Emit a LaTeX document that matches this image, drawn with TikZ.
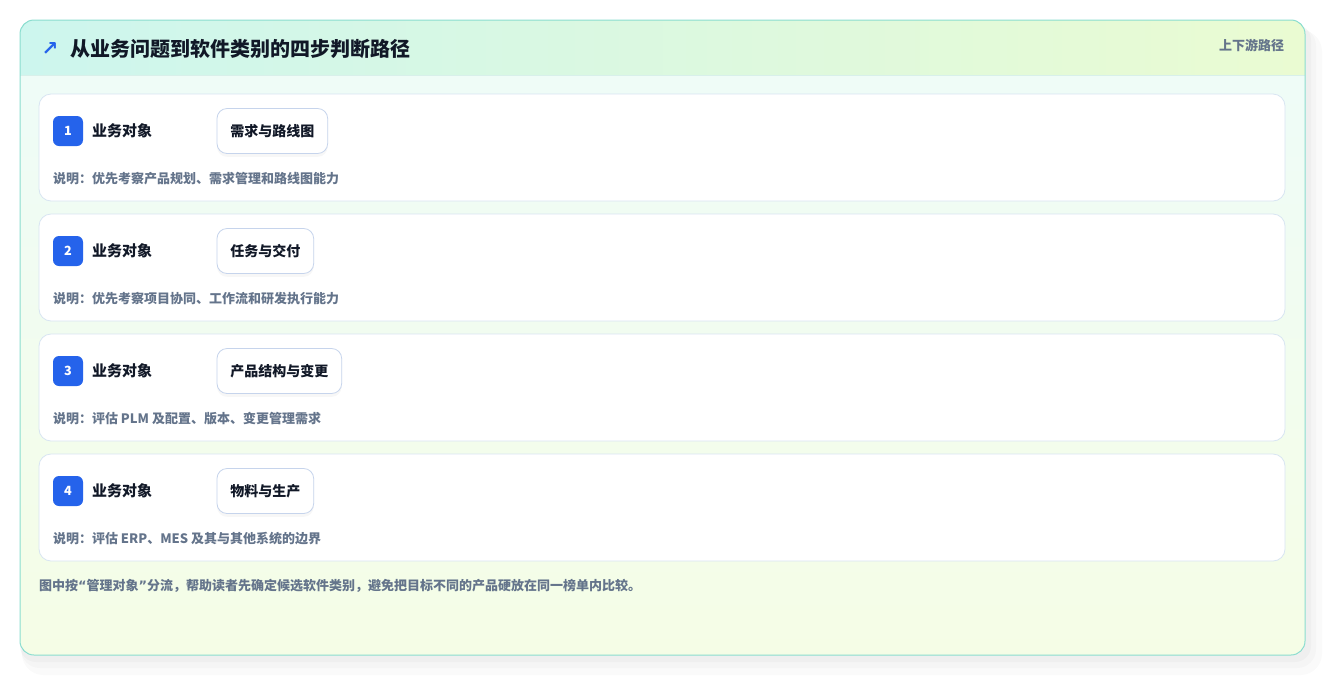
\documentclass[tikz,border=0pt]{standalone}
\usepackage{fontspec}
\setmainfont{Noto Sans CJK SC}
\newfontfamily\symfont{DejaVu Sans}
\usetikzlibrary{positioning, shadows}

\definecolor{cardline}{HTML}{8ADDCF}
\definecolor{headleft}{HTML}{CDF6EE}
\definecolor{headright}{HTML}{EAFBD2}
\definecolor{headline}{HTML}{D8F0EA}
\definecolor{bodytop}{HTML}{EEFCF9}
\definecolor{bodybottom}{HTML}{F5FDE6}
\definecolor{rowline}{HTML}{D8E5F2}
\definecolor{badgeblue}{HTML}{2563EB}
\definecolor{pillline}{HTML}{C6D4EC}
\definecolor{inktext}{HTML}{111827}
\definecolor{mutedtext}{HTML}{64748B}

\tikzset{
  every node/.style={inner sep=0pt, outer sep=0pt},
  rowcard/.style={draw=rowline, fill=white, line width=0.6pt, rounded corners=9pt, minimum width=934.5pt, minimum height=80.25pt},
  badge/.style={fill=badgeblue, rounded corners=4.5pt, minimum size=22.5pt, text=white, font=\bfseries\fontsize{9.5pt}{11pt}\selectfont},
  objlabel/.style={text=inktext, font=\bfseries\fontsize{11.25pt}{12pt}\selectfont},
  pill/.style={draw=pillline, fill=white, line width=0.6pt, rounded corners=7.5pt, minimum height=33.75pt, inner xsep=10pt, text=inktext, font=\bfseries\fontsize{10.5pt}{12pt}\selectfont, drop shadow={opacity=0.06, shadow xshift=0pt, shadow yshift=-2.5pt}},
  note/.style={text=mutedtext, font=\bfseries\fontsize{9.75pt}{11pt}\selectfont}
}
\newcommand{\qmark}[1]{{\symfont\bfseries #1}}

\begin{document}
\begin{tikzpicture}[x=0.75pt, y=-0.75pt, node distance=9.75pt]
  \useasboundingbox (0,0) rectangle (1325,676);

  % Shadow of the card
  \fill[black, opacity=0.018, rounded corners=16pt] (22,30) rectangle (1322,675);
  \fill[black, opacity=0.02, rounded corners=14pt] (21,27) rectangle (1316,668);
  \fill[black, opacity=0.025, rounded corners=12pt] (20,24) rectangle (1311,662);

  % Card with header band
  \begin{scope}
    \clip[rounded corners=10.5pt] (20,20) rectangle (1305,655);
    \shade[top color=bodytop, bottom color=bodybottom] (20,20) rectangle (1305,655);
    \shade[left color=headleft, right color=headright] (20,20) rectangle (1305,75);
  \end{scope}
  \draw[headline, line width=0.75pt] (20.5,75) -- (1304.5,75);
  \draw[cardline, line width=0.75pt, rounded corners=10.5pt] (20,20) rectangle (1305,655);

  % Header
  \node (icon) [anchor=center, text=badgeblue, font=\symfont\bfseries\fontsize{15pt}{16pt}\selectfont] at (50,49) {↗};
  \node (title) [anchor=west, text=inktext, font=\bfseries\fontsize{15pt}{17pt}\selectfont] at (70,49) {从业务问题到软件类别的四步判断路径};
  \node (tag) [anchor=east, text=mutedtext, font=\bfseries\fontsize{9.75pt}{11pt}\selectfont] at (1284,45) {上下游路径};

  % Rows
  \node (row1) [rowcard, anchor=north west] at (39,94) {};
  \node (row2) [rowcard, below=of row1] {};
  \node (row3) [rowcard, below=of row2] {};
  \node (row4) [rowcard, below=of row3] {};

  % Step 1
  \node (badge1) [badge, below right=16.5pt and 10.5pt of row1.north west] {1};
  \node (obj1) [objlabel, right=6.75pt of badge1] {业务对象};
  \node (pill1) [pill, right=100.5pt of badge1] {需求与路线图};
  \node (note1) [note, below=20pt of badge1.south west, anchor=north west] {说明：优先考察产品规划、需求管理和路线图能力};

  % Step 2
  \node (badge2) [badge, below right=16.5pt and 10.5pt of row2.north west] {2};
  \node (obj2) [objlabel, right=6.75pt of badge2] {业务对象};
  \node (pill2) [pill, right=100.5pt of badge2] {任务与交付};
  \node (note2) [note, below=20pt of badge2.south west, anchor=north west] {说明：优先考察项目协同、工作流和研发执行能力};

  % Step 3
  \node (badge3) [badge, below right=16.5pt and 10.5pt of row3.north west] {3};
  \node (obj3) [objlabel, right=6.75pt of badge3] {业务对象};
  \node (pill3) [pill, right=100.5pt of badge3] {产品结构与变更};
  \node (note3) [note, below=20pt of badge3.south west, anchor=north west] {说明：评估 PLM 及配置、版本、变更管理需求};

  % Step 4
  \node (badge4) [badge, below right=16.5pt and 10.5pt of row4.north west] {4};
  \node (obj4) [objlabel, right=6.75pt of badge4] {业务对象};
  \node (pill4) [pill, right=100.5pt of badge4] {物料与生产};
  \node (note4) [note, below=20pt of badge4.south west, anchor=north west] {说明：评估 ERP、MES 及其与其他系统的边界};

  % Footer
  \node (footer) [note, below=14pt of row4.south west, anchor=north west] {图中按\qmark{“}管理对象\qmark{”}分流，帮助读者先确定候选软件类别，避免把目标不同的产品硬放在同一榜单内比较。};
\end{tikzpicture}
\end{document}
